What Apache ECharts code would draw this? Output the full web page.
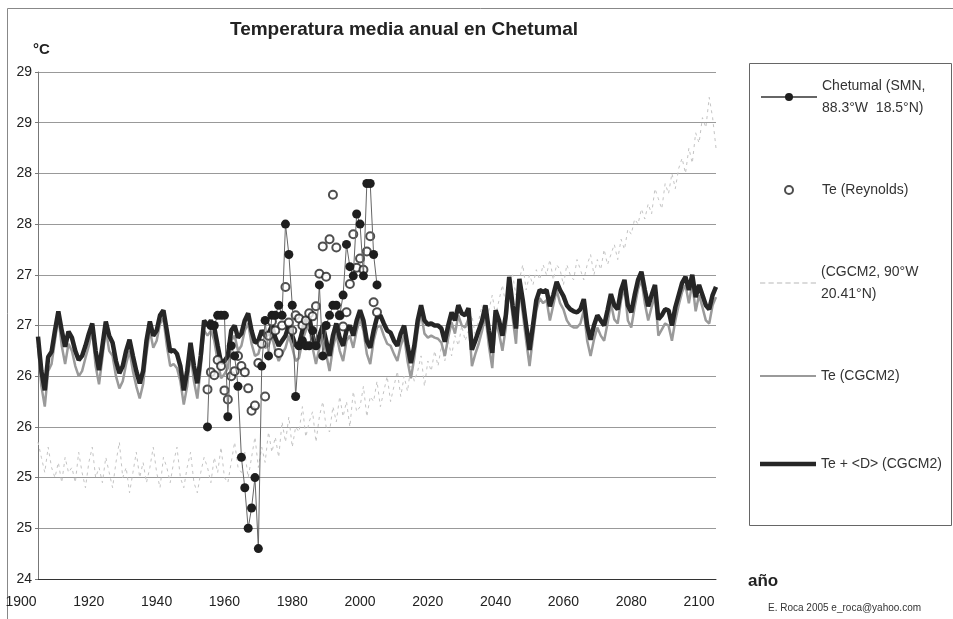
<!DOCTYPE html>
<html>
<head>
<meta charset="utf-8">
<script src="https://cdn.jsdelivr.net/npm/echarts@6/dist/echarts.min.js"></script>
<style>
  html, body { margin: 0; padding: 0; background: #fff; }
  #chart { width: 953px; height: 619px; }
</style>
</head>
<body>
<div id="chart"></div>
<script>
// yearly model series start in 1900
const startYear = 1900;
const xTicks = [1900, 1920, 1940, 1960, 1980, 2000, 2020, 2040, 2060, 2080, 2100];

// Te + <D> (CGCM2), 1900..2100
const teD = [
  26.39, 26.05, 25.86, 26.19, 26.24, 26.45, 26.64, 26.45, 26.29, 26.44,
  26.38, 26.25, 26.16, 26.20, 26.30, 26.42, 26.52, 26.25, 26.06, 26.30,
  26.54, 26.40, 26.33, 26.15, 26.03, 26.10, 26.25, 26.36, 26.20, 26.05,
  25.93, 26.05, 26.35, 26.54, 26.40, 26.45, 26.60, 26.65, 26.45, 26.24,
  26.26, 26.22, 26.10, 25.86, 26.05, 26.33, 26.10, 25.93, 26.20, 26.55,
  26.50, 26.55, 26.48, 26.30, 26.13, 26.15, 26.20, 26.45, 26.50, 26.38,
  26.42, 26.55, 26.62, 26.45, 26.33, 26.35, 26.45, 26.40, 26.42, 26.50,
  26.38, 26.30, 26.35, 26.40, 26.50, 26.40, 26.30, 26.32, 26.45, 26.55,
  26.59, 26.40, 26.28, 26.40, 26.50, 26.35, 26.20, 26.40, 26.52, 26.38,
  26.30, 26.45, 26.50, 26.40, 26.55, 26.65, 26.55, 26.35, 26.28, 26.45,
  26.58, 26.60, 26.52, 26.45, 26.43, 26.35, 26.30, 26.42, 26.50, 26.30,
  26.13, 26.30, 26.55, 26.70, 26.55, 26.51, 26.52, 26.50, 26.50, 26.47,
  26.34, 26.50, 26.63, 26.55, 26.70, 26.62, 26.60, 26.67, 26.26, 26.35,
  26.45, 26.55, 26.70, 26.45, 26.23, 26.65, 26.55, 26.40, 26.60, 26.98,
  26.70, 26.47, 26.96, 26.75, 26.50, 26.26, 26.50, 26.75, 26.85, 26.83,
  26.85, 26.69, 26.80, 26.93, 26.85, 26.79, 26.70, 26.66, 26.64, 26.63,
  26.66, 26.76, 26.50, 26.36, 26.50, 26.60, 26.55, 26.50, 26.65, 26.81,
  26.70, 26.66, 26.85, 26.95, 26.70, 26.63, 26.80, 26.95, 27.03, 26.85,
  26.69, 26.80, 26.90, 26.56, 26.60, 26.66, 26.65, 26.50, 26.68, 26.80,
  26.92, 26.98, 26.85, 27.00, 26.78, 26.90, 26.80, 26.70, 26.66, 26.80,
  26.88
];

// Te (CGCM2), 1900..2100
const te = [
  26.30, 25.90, 25.70, 26.05, 26.12, 26.35, 26.58, 26.30, 26.12, 26.32,
  26.25, 26.10, 26.00, 26.05, 26.18, 26.30, 26.45, 26.10, 25.92, 26.18,
  26.46, 26.25, 26.20, 26.00, 25.88, 25.95, 26.12, 26.25, 26.05, 25.90,
  25.78, 25.92, 26.22, 26.45, 26.28, 26.35, 26.52, 26.57, 26.30, 26.10,
  26.12, 26.08, 25.95, 25.72, 25.90, 26.22, 25.95, 25.78, 26.08, 26.45,
  26.40, 26.45, 26.35, 26.15, 25.98, 26.02, 26.08, 26.35, 26.40, 26.25,
  26.30, 26.45, 26.52, 26.32, 26.20, 26.22, 26.35, 26.28, 26.30, 26.40,
  26.25, 26.15, 26.22, 26.28, 26.40, 26.28, 26.15, 26.18, 26.35, 26.45,
  26.50, 26.28, 26.12, 26.28, 26.40, 26.22, 26.05, 26.28, 26.42, 26.25,
  26.15, 26.35, 26.40, 26.28, 26.45, 26.57, 26.45, 26.22, 26.12, 26.35,
  26.48, 26.50, 26.40, 26.32, 26.30, 26.22, 26.15, 26.30, 26.40, 26.15,
  25.98, 26.18, 26.45, 26.62, 26.42, 26.38, 26.40, 26.38, 26.37, 26.33,
  26.20, 26.38, 26.53, 26.42, 26.60, 26.50, 26.48, 26.57, 26.10, 26.22,
  26.32, 26.45, 26.60, 26.30, 26.08, 26.55, 26.42, 26.25, 26.48, 26.90,
  26.58, 26.32, 26.88, 26.62, 26.35, 26.10, 26.38, 26.65, 26.77, 26.72,
  26.75, 26.55, 26.70, 26.85, 26.72, 26.66, 26.55, 26.50, 26.48, 26.48,
  26.52, 26.65, 26.35, 26.20, 26.36, 26.48, 26.40, 26.35, 26.52, 26.72,
  26.56, 26.52, 26.75, 26.87, 26.55, 26.48, 26.68, 26.86, 26.95, 26.72,
  26.55, 26.68, 26.80, 26.40, 26.46, 26.52, 26.50, 26.35, 26.55, 26.70,
  26.83, 26.90, 26.72, 26.92, 26.64, 26.80, 26.68, 26.55, 26.52, 26.70,
  26.78
];

// (CGCM2, 90°W 20.41°N), 1900..2100
const cgcm = [
  25.35, 25.20, 25.05, 25.30, 25.10, 25.00, 25.15, 24.95, 25.20, 25.05,
  25.10, 24.95, 25.25, 25.05, 24.90, 25.15, 25.30, 25.00, 25.10, 24.95,
  25.20, 25.05, 24.90, 25.15, 25.35, 25.00, 25.10, 24.85, 25.05, 25.25,
  25.00, 25.15, 24.95, 25.10, 25.30, 25.05, 24.90, 25.20, 25.10, 24.95,
  25.15, 25.30, 25.00, 24.90, 25.10, 25.25, 24.95, 24.85, 25.05, 25.20,
  25.10, 24.95, 25.20, 25.05, 25.30, 25.00, 24.95, 25.15, 25.35, 25.10,
  25.05, 25.25, 25.00, 25.20, 25.40, 25.10, 25.30, 25.15, 25.45, 25.25,
  25.40, 25.20, 25.55, 25.35, 25.60, 25.30, 25.50, 25.45, 25.70, 25.40,
  25.55, 25.65, 25.35, 25.60, 25.75, 25.50, 25.45, 25.70, 25.55, 25.80,
  25.60, 25.75, 25.50, 25.85, 25.65, 25.70, 25.90, 25.60, 25.80, 25.75,
  25.95, 25.70, 25.85, 26.00, 25.75, 25.90, 26.05, 25.80, 26.00, 25.85,
  26.10, 25.95, 26.05, 26.20, 25.90, 26.15, 26.05, 26.25, 26.10, 26.30,
  26.15, 26.35, 26.20, 26.40, 26.30, 26.50, 26.35, 26.45, 26.60, 26.40,
  26.55, 26.70, 26.50, 26.65, 26.80, 26.60, 26.75, 26.90, 26.70, 26.85,
  27.00, 26.80, 26.95, 27.10, 26.85, 27.00, 26.90, 27.05, 26.95, 27.10,
  27.00, 27.15, 26.95, 27.10, 27.05, 26.90, 27.10, 27.00, 26.95, 27.15,
  27.05, 26.95, 27.10, 27.20, 27.00, 27.15, 27.05, 27.25, 27.10, 27.20,
  27.30, 27.15, 27.35, 27.25, 27.45, 27.40, 27.55, 27.50, 27.65, 27.55,
  27.70, 27.60, 27.85, 27.75, 27.65, 27.90, 27.80, 28.00, 27.85, 28.05,
  28.15, 28.00, 28.25, 28.10, 28.40, 28.30, 28.55, 28.45, 28.75, 28.55,
  28.25
];

// Chetumal (SMN) observations
const smnYears = [
  1950, 1951, 1952, 1953, 1954, 1955, 1956, 1957, 1958, 1959,
  1960, 1961, 1962, 1963, 1964, 1965, 1966, 1967, 1968, 1969,
  1970, 1971, 1972, 1973, 1974, 1975, 1976, 1977, 1978, 1979,
  1980, 1981, 1982, 1983, 1984, 1985, 1986, 1987, 1988, 1989,
  1990, 1991, 1992, 1993, 1994, 1995, 1996, 1997, 1998, 1999, 2000
];
const smn = [
  25.50, 26.50, 26.50, 26.60, 26.60, 26.60, 25.60, 26.30, 26.20, 25.90,
  25.20, 24.90, 24.50, 24.70, 25.00, 24.30, 26.10, 26.55, 26.20, 26.60,
  26.60, 26.70, 26.60, 27.50, 27.20, 26.70, 25.80, 26.30, 26.35, 26.30,
  26.30, 26.45, 26.30, 26.90, 26.20, 26.50, 26.60, 26.70, 26.70, 26.60,
  26.80, 27.30, 27.08, 26.99, 27.60, 27.50, 26.99, 27.90, 27.90, 27.20, 26.90
];

// Te (Reynolds) observations
const reyYears = [
  1950, 1951, 1952, 1953, 1954, 1955, 1956, 1957, 1958, 1959,
  1960, 1961, 1962, 1963, 1964, 1965, 1966, 1967, 1968, 1969,
  1970, 1971, 1972, 1973, 1974, 1975, 1976, 1977, 1978, 1979,
  1980, 1981, 1982, 1983, 1984, 1985, 1986, 1987, 1988, 1989,
  1990, 1991, 1992, 1993, 1994, 1995, 1996, 1997, 1998, 1999, 2000
];
const rey = [
  25.87, 26.04, 26.01, 26.16, 26.10, 25.86, 25.77, 26.00, 26.05, 26.20,
  26.10, 26.04, 25.88, 25.66, 25.71, 26.13, 26.32, 25.80, 26.40, 26.54,
  26.45, 26.23, 26.50, 26.88, 26.53, 26.45, 26.60, 26.57, 26.50, 26.55,
  26.62, 26.59, 26.69, 27.01, 27.28, 26.98, 27.35, 27.79, 27.27, 26.60,
  26.49, 26.63, 26.91, 27.40, 27.07, 27.16, 27.05, 27.23, 27.38, 26.73, 26.63
];

const FONT = "'Liberation Sans', Arial, sans-serif";
const DASH_ICON = "path://M0,0h5v1h-5zM8,0h5v1h-5zM16,0h5v1h-5zM24,0h5v1h-5zM32,0h5v1h-5zM40,0h5v1h-5zM48,0h5v1h-5z";

const chart = echarts.init(document.getElementById("chart"), null, { renderer: "canvas" });

const yearly = (arr) => arr.map((v, i) => [startYear + i, v]);
const paired = (xs, ys) => xs.map((x, i) => [x, ys[i]]);

const legendBase = {
  left: 760,
  orient: "vertical",
  padding: 0,
  itemWidth: 56,
  itemHeight: 10,
  itemGap: 0,
  selectedMode: false,
  textStyle: { fontFamily: FONT, fontSize: 14, color: "#333", lineHeight: 22 },
};
const twoLineText = Object.assign({}, legendBase.textStyle, { padding: [22, 0, 0, 0] });

const option = {
  backgroundColor: "#fff",
  animation: false,
  grid: { left: 38, right: 237, top: 72, bottom: 40 },
  xAxis: {
    type: "value",
    min: xTicks[0],
    max: xTicks[xTicks.length - 1],
    interval: 20,
    axisLine: { show: true, lineStyle: { color: "#333", width: 1 } },
    axisTick: { show: false },
    splitLine: { show: false },
    axisLabel: {
      margin: 16,
      padding: [0, 34, 0, 0],
      color: "#222",
      fontFamily: FONT,
      fontSize: 14,
      formatter: (v) => String(v),
    },
  },
  yAxis: {
    type: "value",
    min: 24,
    max: 29,
    interval: 0.5,
    axisLine: { show: true, lineStyle: { color: "#777", width: 1 } },
    axisTick: { show: true, length: 3, lineStyle: { color: "#777" } },
    splitLine: { show: true, lineStyle: { color: "#999", width: 1 } },
    axisLabel: {
      margin: 6,
      color: "#222",
      fontFamily: FONT,
      fontSize: 14,
      formatter: (v) => String(Math.round(v)),
    },
  },
  legend: [
    Object.assign({}, legendBase, {
      top: 64,
      data: ["Chetumal (SMN,\n88.3°W  18.5°N)"],
      textStyle: twoLineText,
    }),
    Object.assign({}, legendBase, { left: 784, top: 179, itemHeight: 8, data: ["Te (Reynolds)"] }),
    Object.assign({}, legendBase, {
      top: 250,
      itemHeight: 1.5,
      data: [{ name: "(CGCM2, 90°W\n20.41°N)", icon: DASH_ICON }],
      textStyle: twoLineText,
    }),
    Object.assign({}, legendBase, { top: 365, itemHeight: 2, data: [{ name: "Te (CGCM2)", icon: "rect" }] }),
    Object.assign({}, legendBase, { top: 453, itemHeight: 4.5, data: [{ name: "Te + <D> (CGCM2)", icon: "rect" }] }),
  ],
  graphic: [
    {
      type: "text",
      x: 404,
      y: 30,
      style: {
        text: "Temperatura media anual en Chetumal",
        align: "center",
        verticalAlign: "middle",
        fontFamily: FONT,
        fontSize: 19,
        fontWeight: "bold",
        fill: "#222",
      },
    },
    {
      type: "text",
      x: 33,
      y: 50,
      style: { text: "°C", verticalAlign: "middle", fontFamily: FONT, fontSize: 15, fontWeight: "bold", fill: "#222" },
    },
    {
      type: "text",
      x: 748,
      y: 581,
      style: { text: "año", verticalAlign: "middle", fontFamily: FONT, fontSize: 17, fontWeight: "bold", fill: "#222" },
    },
    {
      type: "text",
      x: 768,
      y: 608,
      style: { text: "E. Roca 2005 e_roca@yahoo.com", verticalAlign: "middle", fontFamily: FONT, fontSize: 10, fill: "#333" },
    },
    {
      type: "rect",
      shape: { x: 749.5, y: 63.5, width: 202, height: 462 },
      style: { fill: "none", stroke: "#666", lineWidth: 1 },
    },
    {
      type: "polyline",
      shape: { points: [[7.5, 619], [7.5, 8.5], [953, 8.5]] },
      style: { fill: "none", stroke: "#888", lineWidth: 1 },
    },
  ],
  series: [
    {
      name: "(CGCM2, 90°W\n20.41°N)",
      type: "line",
      data: yearly(cgcm),
      symbol: "none",
      z: 1,
      lineStyle: { color: "#c4c4c4", width: 1, type: [3, 4] },
      itemStyle: { color: "#b8b8b8" },
    },
    {
      name: "Te (CGCM2)",
      type: "line",
      data: yearly(te),
      symbol: "none",
      z: 2,
      lineStyle: { color: "#9a9a9a", width: 2.5 },
      itemStyle: { color: "#9a9a9a" },
    },
    {
      name: "Te + <D> (CGCM2)",
      type: "line",
      data: yearly(teD),
      symbol: "none",
      z: 3,
      lineStyle: { color: "#262626", width: 4.5 },
      itemStyle: { color: "#262626" },
    },
    {
      name: "Te (Reynolds)",
      type: "scatter",
      data: paired(reyYears, rey),
      symbol: "emptyCircle",
      symbolSize: 8,
      z: 4,
      itemStyle: { color: "#222", borderWidth: 1.5 },
    },
    {
      name: "Chetumal (SMN,\n88.3°W  18.5°N)",
      type: "line",
      data: paired(smnYears, smn),
      symbol: "circle",
      symbolSize: 9,
      showAllSymbol: true,
      z: 5,
      lineStyle: { color: "#666", width: 1 },
      itemStyle: { color: "#1e1e1e" },
    },
  ],
};

chart.setOption(option);
window.addEventListener("resize", chart.resize);
</script>
</body>
</html>
